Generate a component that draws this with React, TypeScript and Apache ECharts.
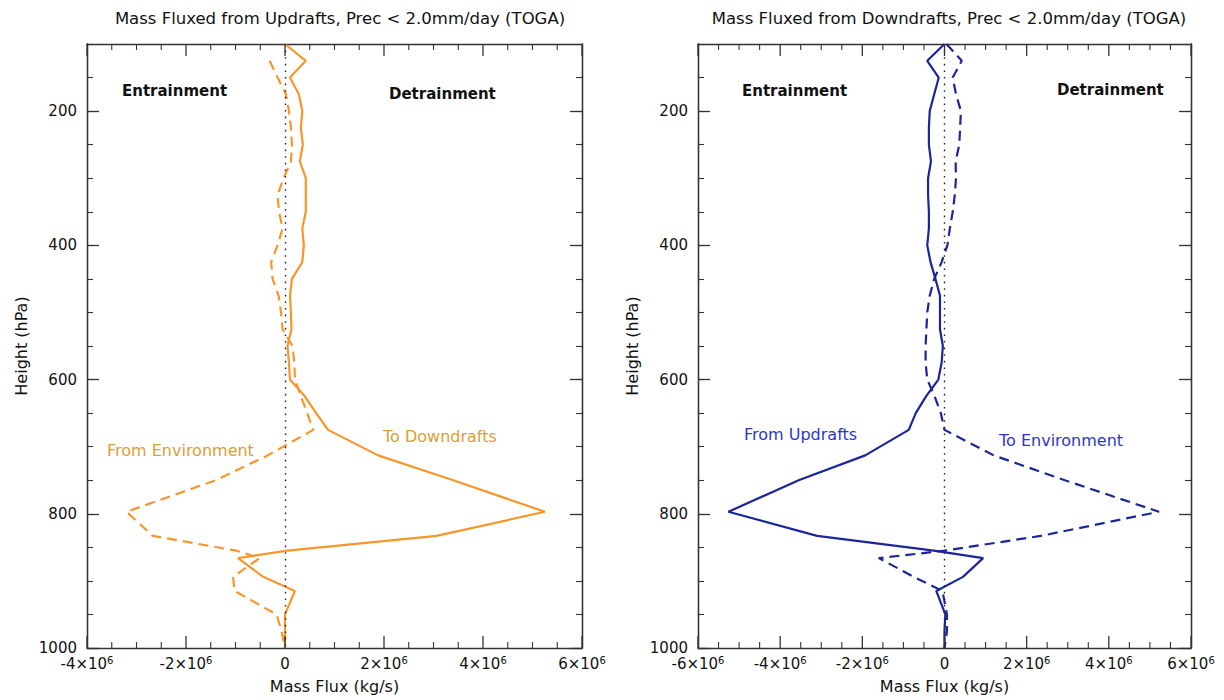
import React, { useEffect, useRef } from "react";
import * as echarts from "echarts";

// Pressure levels (hPa) shared by every profile
const levels = [
  100, 125, 150, 175, 200, 225, 250, 275, 300, 325, 350, 375, 400, 425, 450, 475, 500, 525,
  550, 575, 600, 625, 650, 675, 713, 750, 797, 833, 855, 866, 894, 915, 950, 975, 1000,
];

// Updraft mass flux profiles (10^6 kg/s)
const updraftToDowndrafts = [
  0, 0.42, 0.1, 0.28, 0.35, 0.32, 0.36, 0.3, 0.42, 0.42, 0.42, 0.35, 0.38, 0.35, 0.14, 0.1, 0.12, 0.13,
  0.05, 0.08, 0.1, 0.4, 0.63, 0.87, 1.88, 3.4, 5.25, 3.06, 0.05, -0.95, -0.44, 0.2, 0, 0, 0,
];
const updraftFromEnvironment = [
  null, -0.31, -0.15, 0.02, 0.08, 0.12, 0.14, 0.12, -0.03, -0.15, -0.12, -0.05, -0.15, -0.28, -0.25, -0.13, -0.08, -0.05,
  0.15, 0.19, 0.2, 0.32, 0.45, 0.57, -0.35, -1.4, -3.2, -2.67, -0.98, -0.51, -1.05, -1.02, -0.17, -0.07, 0,
];

// Downdraft mass flux profiles (10^6 kg/s)
const downdraftFromUpdrafts = [
  0, -0.42, -0.14, -0.25, -0.36, -0.38, -0.38, -0.33, -0.4, -0.4, -0.38, -0.38, -0.42, -0.34, -0.22, -0.11, -0.11, -0.11,
  -0.04, -0.07, -0.15, -0.45, -0.7, -0.87, -1.93, -3.55, -5.26, -3.1, -0.26, 0.94, 0.45, -0.2, 0.02, 0, 0,
];
const downdraftToEnvironment = [
  0.05, 0.42, 0.2, 0.28, 0.4, 0.38, 0.36, 0.27, 0.28, 0.25, 0.2, 0.13, 0.07, -0.07, -0.25, -0.36, -0.42, -0.44,
  -0.46, -0.46, -0.42, -0.24, -0.09, 0, 1.2, 2.93, 5.22, 2.34, 0, -1.6, -0.75, -0.05, 0.06, 0.06, 0,
];

const heightLabels = [200, 400, 600, 800, 1000];
const heightMinorTicks = [
  100, 150, 200, 250, 300, 350, 400, 450, 500, 550, 600, 650, 700, 750, 800, 850, 900, 950, 1000,
];
const heightRange = [100, 1000];
const leftFluxRange = [-4, 6];
const rightFluxRange = [-6, 6];
const fluxMajorStep = 2;
const fluxMinorStep = 0.5;

const FONT = "DejaVu Sans, Arial, sans-serif";
const ORANGE = "#F7962A";
const ORANGE_TEXT = "#D9A035";
const BLUE = "#1B2699";
const BLUE_TEXT = "#2C37C6";
const FRAME = "#333333";

const X_PER_PANEL = 2;
const Y_PER_PANEL = 4;

const pairs = (vals: (number | null)[]) =>
  levels.map((p, i) => [vals[i], p]).filter((d) => d[0] !== null);

const fluxLabel = (v: number) => (v === 0 ? "{n|0}" : `{n|${v}×10}{s|6}`);

const stepsBetween = (lo: number, hi: number, step: number) => {
  const out: number[] = [];
  for (let v = lo; v <= hi + 1e-9; v += step) out.push(Math.round(v * 100) / 100);
  return out;
};

// x axes per panel: labelled bottom edge and plain top edge (ticks are drawn as graphics)
function xAxes(gridIndex: number, range: number[]) {
  const base = {
    gridIndex,
    type: "value",
    min: range[0],
    max: range[1],
    interval: fluxMajorStep,
    splitLine: { show: false },
    axisTick: { show: false },
    axisLine: { show: true, onZero: false, lineStyle: { color: FRAME, width: 1.3 } },
  };
  return [
    {
      ...base,
      position: "bottom",
      name: "Mass Flux (kg/s)",
      nameLocation: "middle",
      nameGap: 30,
      nameTextStyle: { fontFamily: FONT, fontSize: 16, color: "#111" },
      axisLabel: {
        margin: 7,
        formatter: fluxLabel,
        rich: {
          n: { fontFamily: FONT, fontSize: 15, color: "#111", lineHeight: 18 },
          s: { fontFamily: FONT, fontSize: 10, color: "#111", verticalAlign: "top", lineHeight: 10 },
        },
      },
    },
    { ...base, position: "top", axisLabel: { show: false } },
  ];
}

// y axes per panel: labelled left + minor left, major right + minor right
function yAxes(gridIndex: number) {
  const base = {
    gridIndex,
    type: "value",
    inverse: true,
    min: heightRange[0],
    max: heightRange[1],
    splitLine: { show: false },
    axisLine: { show: true, onZero: false, lineStyle: { color: FRAME, width: 1.3 } },
  };
  const major = {
    ...base,
    axisTick: { show: true, inside: true, length: 12, customValues: heightLabels, lineStyle: { color: FRAME, width: 1.3 } },
  };
  const minor = {
    ...base,
    axisLabel: { show: false },
    axisTick: { show: true, inside: true, length: 6, customValues: heightMinorTicks, lineStyle: { color: FRAME, width: 1.1 } },
  };
  return [
    {
      ...major,
      position: "left",
      name: "Height (hPa)",
      nameLocation: "middle",
      nameGap: 58,
      nameTextStyle: { fontFamily: FONT, fontSize: 16, color: "#111" },
      axisLabel: {
        show: true,
        customValues: heightLabels,
        formatter: (v: number) => String(v),
        margin: 10,
        fontFamily: FONT,
        fontSize: 15,
        color: "#111",
      },
    },
    { ...minor, position: "left" },
    { ...major, position: "right", axisLabel: { show: false } },
    { ...minor, position: "right" },
  ];
}

function profile(name: string, vals: (number | null)[], color: string, dashed: boolean, panel: number) {
  return {
    name,
    type: "line",
    xAxisIndex: panel * X_PER_PANEL,
    yAxisIndex: panel * Y_PER_PANEL,
    data: pairs(vals),
    showSymbol: false,
    symbol: "none",
    connectNulls: false,
    lineStyle: { color, width: 2.2, type: dashed ? [10, 6] : "solid" },
    z: 3,
  };
}

function zeroLine(panel: number) {
  return {
    type: "line",
    xAxisIndex: panel * X_PER_PANEL,
    yAxisIndex: panel * Y_PER_PANEL,
    data: [],
    silent: true,
    markLine: {
      silent: true,
      symbol: ["none", "none"],
      label: { show: false },
      lineStyle: { color: "#222", width: 1.4, type: [1.6, 5] },
      data: [{ xAxis: 0 }],
    },
    z: 2,
  };
}

function note(text: string, x: number, y: number, color: string, bold: boolean) {
  return {
    type: "text",
    x,
    y,
    style: {
      text,
      fill: color,
      font: `${bold ? "bold " : ""}${bold ? 15 : 16}px ${FONT}`,
      textVerticalAlign: "middle",
    },
  };
}

const notes = [
  note("Entrainment", 122, 91, "#111", true),
  note("Detrainment", 389, 94, "#111", true),
  note("Entrainment", 742, 91, "#111", true),
  note("Detrainment", 1057, 90, "#111", true),
  note("From Environment", 107, 450, ORANGE_TEXT, false),
  note("To Downdrafts", 383, 436, ORANGE_TEXT, false),
  note("From Updrafts", 744, 434, BLUE_TEXT, false),
  note("To Environment", 999, 440, BLUE_TEXT, false),
];

// Inward ticks along the top and bottom edges, placed through the x axis scale
function fluxTicks(chart: echarts.ECharts, panel: number, range: number[]) {
  const out: any[] = [];
  const xi = panel * X_PER_PANEL;
  const yi = panel * Y_PER_PANEL;
  const yTop = chart.convertToPixel({ yAxisIndex: yi }, heightRange[0]) as number;
  const yBot = chart.convertToPixel({ yAxisIndex: yi }, heightRange[1]) as number;
  if (typeof yTop !== "number" || typeof yBot !== "number") return out;
  for (const v of stepsBetween(range[0], range[1], fluxMinorStep)) {
    const x = chart.convertToPixel({ xAxisIndex: xi }, v) as number;
    if (typeof x !== "number" || isNaN(x)) continue;
    const isMajor = Math.abs(v / fluxMajorStep - Math.round(v / fluxMajorStep)) < 1e-6;
    const len = isMajor ? 12 : 6;
    const style = { stroke: FRAME, lineWidth: isMajor ? 1.3 : 1.1 };
    out.push({ type: "line", silent: true, z: 10, shape: { x1: x, y1: yBot, x2: x, y2: yBot - len }, style });
    out.push({ type: "line", silent: true, z: 10, shape: { x1: x, y1: yTop, x2: x, y2: yTop + len }, style });
  }
  return out;
}

export default function App() {
  const ref = useRef<HTMLDivElement>(null);

  useEffect(() => {
    if (!ref.current) return;
    const chart = echarts.init(ref.current, null, { renderer: "svg" });
    chart.setOption({
      animation: false,
      backgroundColor: "#fff",
      title: [
        {
          text: "Mass Fluxed from Updrafts, Prec < 2.0mm/day (TOGA)",
          left: 335,
          top: 5,
          textAlign: "center",
          textStyle: { fontFamily: FONT, fontSize: 16.5, fontWeight: "normal", color: "#111" },
        },
        {
          text: "Mass Fluxed from Downdrafts, Prec < 2.0mm/day (TOGA)",
          left: 944,
          top: 5,
          textAlign: "center",
          textStyle: { fontFamily: FONT, fontSize: 16.5, fontWeight: "normal", color: "#111" },
        },
      ],
      grid: [
        { left: 87, top: 44, width: 495, height: 604 },
        { left: 698, top: 44, width: 493, height: 604 },
      ],
      xAxis: [...xAxes(0, leftFluxRange), ...xAxes(1, rightFluxRange)],
      yAxis: [...yAxes(0), ...yAxes(1)],
      series: [
        zeroLine(0),
        zeroLine(1),
        profile("To Downdrafts", updraftToDowndrafts, ORANGE, false, 0),
        profile("From Environment", updraftFromEnvironment, ORANGE, true, 0),
        profile("From Updrafts", downdraftFromUpdrafts, BLUE, false, 1),
        profile("To Environment", downdraftToEnvironment, BLUE, true, 1),
      ],
      graphic: notes,
    });

    let ticks: any[] = [];
    try {
      ticks = [...fluxTicks(chart, 0, leftFluxRange), ...fluxTicks(chart, 1, rightFluxRange)];
    } catch (e) {
      ticks = [];
    }
    if (ticks.length) chart.setOption({ graphic: [...notes, ...ticks] });

    return () => chart.dispose();
  }, []);

  return (
    <div
      ref={ref}
      style={{ position: "fixed", left: 0, top: 0, width: 1224, height: 700, background: "#fff" }}
    />
  );
}
